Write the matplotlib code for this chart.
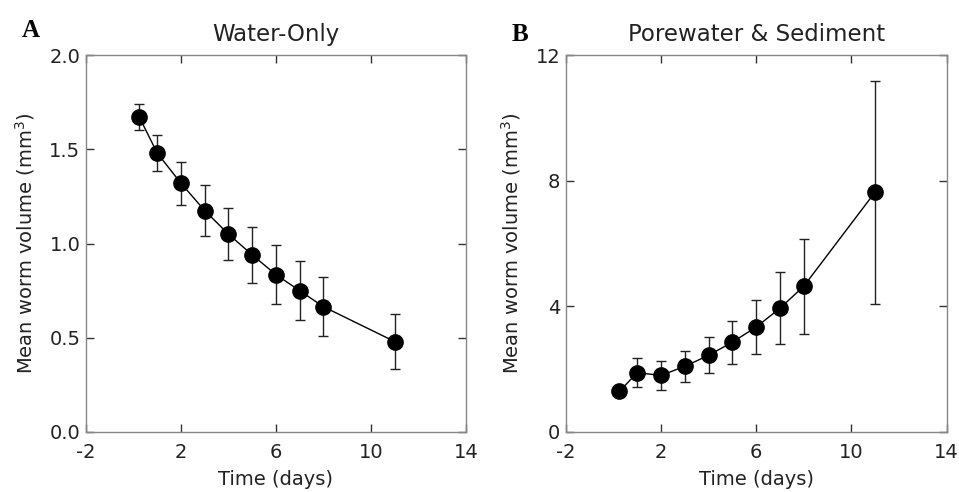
import matplotlib.pyplot as plt

# 數據
days = [0.25, 1, 2, 3, 4, 5, 6, 7, 8, 11]

water_mean = [1.67, 1.48, 1.32, 1.175, 1.05, 0.94, 0.835, 0.75, 0.665, 0.48]
water_err = [0.07, 0.095, 0.115, 0.135, 0.14, 0.15, 0.155, 0.155, 0.155, 0.145]

pore_mean = [1.29, 1.89, 1.80, 2.09, 2.44, 2.86, 3.34, 3.94, 4.64, 7.64]
pore_err = [0.0, 0.47, 0.47, 0.49, 0.57, 0.68, 0.87, 1.15, 1.52, 3.55]

xticks = [-2, 2, 6, 10, 14]
water_yticks = [0.0, 0.5, 1.0, 1.5, 2.0]
pore_yticks = [0, 4, 8, 12]

plt.rcParams['font.family'] = ['DejaVu Sans']
plt.rcParams['axes.unicode_minus'] = False

fig = plt.figure(figsize=(9.59, 4.92), dpi=100)
ax_a = fig.add_axes([0.0897, 0.122, 0.396, 0.766])
ax_b = fig.add_axes([0.590, 0.122, 0.397, 0.766])


def draw_panel(ax, mean, err, yticks, ylim, ytick_fmt, title):
    ax.errorbar(days, mean, yerr=err, fmt='o-', color='black', ecolor='#222222',
                markersize=11, linewidth=1.0, elinewidth=1.0, capsize=3.5,
                capthick=1.0)
    ax.set_xlim(-2, 14)
    ax.set_ylim(*ylim)
    ax.set_xticks(xticks)
    ax.set_yticks(yticks)
    ax.set_yticklabels([ytick_fmt.format(v) for v in yticks])
    ax.tick_params(direction='in', top=True, right=True, labelsize=14,
                   length=6, width=1, colors='#333333', labelcolor='#222222')
    ax.tick_params(axis='x', pad=8)
    ax.tick_params(axis='y', pad=4)
    for s in ax.spines.values():
        s.set_color('#888888')
        s.set_linewidth(1.0)
    ax.set_xlabel('Time (days)', fontsize=14, labelpad=6, color='#222222')
    ax.set_ylabel('Mean worm volume (mm$^3$)', fontsize=14, labelpad=9, color='#222222')
    ax.set_title(title, fontsize=16.5, pad=10, color='#222222')


draw_panel(ax_a, water_mean, water_err, water_yticks, (0, 2.0), '{:.1f}', 'Water-Only')
draw_panel(ax_b, pore_mean, pore_err, pore_yticks, (0, 12), '{:d}', 'Porewater & Sediment')

fig.text(0.023, 0.925, 'A', fontsize=18, fontweight='bold', family='Liberation Serif')
fig.text(0.534, 0.916, 'B', fontsize=18, fontweight='bold', family='Liberation Serif')

fig.savefig('out.png', dpi=100, facecolor='white')
